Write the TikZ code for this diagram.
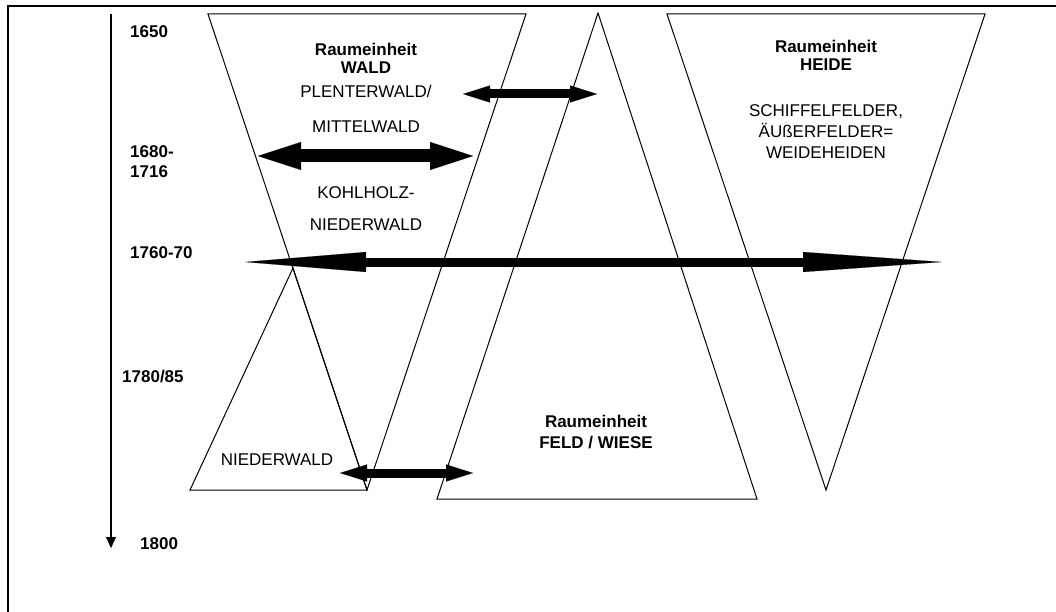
\documentclass[tikz,border=0pt]{standalone}
\usepackage{fontspec}
\setmainfont{Liberation Sans}
\usetikzlibrary{arrows.meta}
\tikzset{
  lbl/.style={inner sep=0pt, anchor=base, font=\fontsize{17}{20}\selectfont},
  blbl/.style={lbl, font=\fontsize{17}{20}\selectfont\bfseries},
  yr/.style={inner sep=0pt, anchor=base west, font=\fontsize{17}{20}\selectfont\bfseries},
  tri/.style={draw=black, line width=1pt, line join=miter},
  smallarr/.style={line width=9pt, {Triangle[length=27pt,width=17pt,line width=0.1pt]}-{Triangle[length=27pt,width=17pt,line width=0.1pt]}},
  bigarr/.style={line width=13pt, {Triangle[length=43pt,width=28pt,line width=0.1pt]}-{Triangle[length=43pt,width=28pt,line width=0.1pt]}},
  longarr/.style={line width=9pt, {Triangle[length=121pt,width=20pt,line width=0.1pt]}-{Triangle[length=139pt,width=20pt,line width=0.1pt]}},
  timearr/.style={line width=1.5pt, -{Triangle[length=11pt,width=10pt,line width=0.1pt]}}
}
\begin{document}
\begin{tikzpicture}[x=1pt,y=-1pt]
\useasboundingbox (0,0) rectangle (1056,612);
% frame
\coordinate (fbl) at (8,614);
\coordinate (ftl) at (8,6);
\coordinate (ftr) at (1058,6);
\draw[line width=2pt] (fbl) -- (ftl) -- (ftr);
% timeline
\coordinate (t0) at (111,14);
\coordinate (t1) at (111,548);
\draw[timearr] (t0) -- (t1);
% triangles
\coordinate (w1) at (208,14);
\coordinate (w2) at (526,14);
\coordinate (w3) at (367,490);
\draw[tri] (w1) -- (w2) -- (w3) -- cycle;
\coordinate (n1) at (293,268);
\coordinate (n2) at (190,490);
\coordinate (n3) at (367,490);
\draw[tri] (n1) -- (n2) -- (n3) -- cycle;
\coordinate (f1) at (598,13);
\coordinate (f2) at (437,499);
\coordinate (f3) at (757,499);
\draw[tri] (f1) -- (f2) -- (f3) -- cycle;
\coordinate (h1) at (667,14);
\coordinate (h2) at (985,14);
\coordinate (h3) at (826,490);
\draw[tri] (h1) -- (h2) -- (h3) -- cycle;
% arrows
\coordinate (a1l) at (463,94);
\coordinate (a1r) at (597,94);
\draw[smallarr] (a1l) -- (a1r);
\coordinate (a2l) at (258,156);
\coordinate (a2r) at (473,156);
\draw[bigarr] (a2l) -- (a2r);
\coordinate (a3l) at (245,262);
\coordinate (a3r) at (942,262);
\draw[longarr] (a3l) -- (a3r);
\coordinate (a4l) at (340,473);
\coordinate (a4r) at (473,473);
\draw[smallarr] (a4l) -- (a4r);
% years
\node[yr] (y1650) at (130,38) {1650};
\node[yr] (y1680) at (130,158) {1680-};
\node[yr] (y1716) at (130,178) {1716};
\node[yr] (y1760) at (130,258) {1760-70};
\node[yr] (y1780) at (122,382) {1780/85};
\node[yr] (y1800) at (140,549) {1800};
% WALD texts
\node[blbl] (wr) at (366,56) {Raumeinheit};
\node[blbl] (ww) at (366,74) {WALD};
\node[lbl] (wp) at (366,98) {PLENTERWALD/};
\node[lbl] (wm) at (366,133) {MITTELWALD};
\node[lbl] (wk) at (366,199) {KOHLHOLZ-};
\node[lbl] (wn) at (366,230) {NIEDERWALD};
% HEIDE texts
\node[blbl] (hr) at (826,53) {Raumeinheit};
\node[blbl] (hh) at (826,71) {HEIDE};
\node[lbl] (hs) at (826,117) {SCHIFFELFELDER,};
\node[lbl] (ha) at (826,138) {ÄUßERFELDER=};
\node[lbl] (hw) at (826,159) {WEIDEHEIDEN};
% FELD texts
\node[blbl] (fr) at (596,427) {Raumeinheit};
\node[blbl] (ff) at (596,448) {FELD / WIESE};
% Niederwald
\node[lbl] (nn) at (277,465) {NIEDERWALD};
\end{tikzpicture}
\end{document}
